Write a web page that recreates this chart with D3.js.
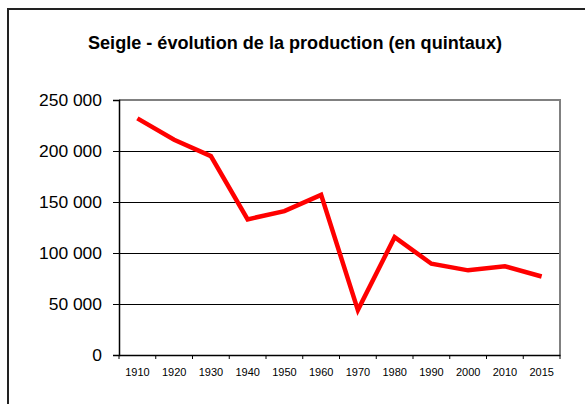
<!DOCTYPE html>
<html><head><meta charset="utf-8">
<script src="https://cdn.jsdelivr.net/npm/d3@7/dist/d3.min.js"></script>
<style>body{margin:0;background:#fff}svg{display:block}text{font-family:Arial,"Liberation Sans",sans-serif}</style>
</head><body><svg id="c" width="585" height="404"></svg>
<script>
const title = "Seigle - évolution de la production (en quintaux)";
const years = ["1910","1920","1930","1940","1950","1960","1970","1980","1990","2000","2010","2015"];
const production = [232000,211000,195000,133000,141000,157000,44000,115500,89500,83000,87000,77000];
const yTicks = [0,50000,100000,150000,200000,250000];

const svg = d3.select("#c");
const L=119, R=560, T=100, B=355;

// outer frame
svg.append("path").attr("d","M8,410 V9 H590").attr("fill","none").attr("stroke","#222").attr("stroke-width",2);

svg.append("text").attr("x",295).attr("y",48.5).attr("text-anchor","middle")
  .attr("font-size",17.5).attr("font-weight","bold").attr("fill","#000")
  .attr("textLength",414).attr("lengthAdjust","spacingAndGlyphs").text(title);

const x = d3.scaleBand().domain(years).range([L,R]).padding(0);
const y = d3.scaleLinear().domain([0,250000]).range([B,T]);

// gridlines
svg.append("g").selectAll("line").data(yTicks.filter(d=>d>0&&d<250000)).join("line")
  .attr("x1",L).attr("x2",R).attr("y1",d=>Math.round(y(d))+0.5).attr("y2",d=>Math.round(y(d))+0.5)
  .attr("stroke","#000").attr("stroke-width",1);

// plot border top/right gray
svg.append("path").attr("d",`M${L},${T} H${R} V${B}`).attr("fill","none").attr("stroke","#808080").attr("stroke-width",2);

// y axis
const fmt = d => d3.format(",")(d).replace(/,/g," ");
const ya = svg.append("g").attr("transform",`translate(${L},0)`)
  .call(d3.axisLeft(y).tickValues(yTicks).tickSize(6).tickPadding(0).tickFormat(fmt));
ya.select(".domain").attr("stroke","#000").attr("stroke-width",1.5);
ya.selectAll(".tick line").attr("stroke","#000");
ya.selectAll(".tick text").attr("font-size",16).attr("fill","#000").attr("x",0).attr("dy",0).attr("y",5.5)
  .attr("transform","translate(-17,0) scale(1.09,1)");

// x axis
const xa = svg.append("g").attr("transform",`translate(0,${B})`)
  .call(d3.axisBottom(x).tickSize(0).tickPadding(0));
xa.select(".domain").attr("stroke","#000").attr("stroke-width",1.5);
xa.selectAll(".tick text").attr("font-size",11).attr("fill","#000").attr("y",21).attr("dy",0);
svg.append("g").selectAll("line").data(years.concat(["end"])).join("line")
  .attr("x1",(d,i)=>i<years.length?x(d):R).attr("x2",(d,i)=>i<years.length?x(d):R)
  .attr("y1",B).attr("y2",B+4).attr("stroke","#000").attr("stroke-width",1);

// line
const line = d3.line().x((d,i)=>x(years[i])+x.bandwidth()/2).y(d=>y(d));
svg.append("path").datum(production).attr("d",line).attr("fill","none")
  .attr("stroke","#ff0000").attr("stroke-width",4.5).attr("stroke-linejoin","miter");
</script></body></html>
